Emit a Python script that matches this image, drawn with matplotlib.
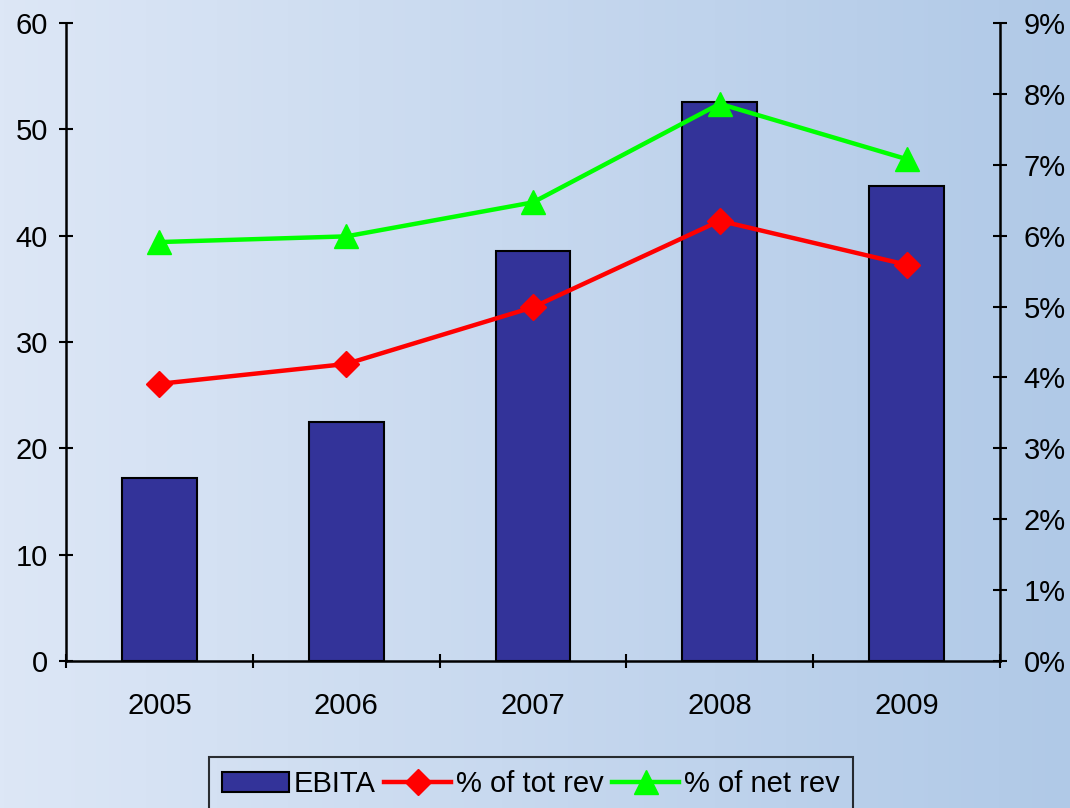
import matplotlib
matplotlib.use("Agg")
import matplotlib.pyplot as plt
import numpy as np
from matplotlib.ticker import FuncFormatter, MultipleLocator

years = ["2005", "2006", "2007", "2008", "2009"]
ebita = [17.2, 22.5, 38.6, 52.6, 44.7]
pct_tot_rev = [3.91, 4.19, 4.99, 6.21, 5.59]
pct_net_rev = [5.91, 5.99, 6.47, 7.86, 7.08]

plt.rcParams['font.family'] = ['Liberation Sans', 'DejaVu Sans']

fig = plt.figure(figsize=(10.7, 8.08), dpi=100)

# background gradient
bg = fig.add_axes([0, 0, 1, 1], zorder=-10)
grad = np.linspace(0, 1, 256)[None, :]
c0 = np.array([221, 231, 246]) / 255
c1 = np.array([176, 201, 231]) / 255
img = c0[None, None, :] * (1 - grad[..., None]) + c1[None, None, :] * grad[..., None]
bg.imshow(img, aspect='auto', extent=[0, 1, 0, 1])
bg.axis('off')

ax = fig.add_axes([66/1070, 1 - 661/808, (1000-66)/1070, (661-23)/808])
ax.patch.set_alpha(0)
x = np.arange(len(years))
ax.bar(x, ebita, width=0.4, color='#333399', edgecolor='black', linewidth=1.5, zorder=2, label='EBITA')
ax.set_xlim(-0.5, 4.5)
ax.set_ylim(0, 60)
ax.yaxis.set_major_locator(MultipleLocator(10))
ax.set_xticks(np.arange(-0.5, 4.6, 1.0))
ax.set_xticklabels([])
ax.set_xticks(x, minor=True)
ax.set_xticklabels(years, minor=True)
ax.tick_params(axis='x', which='minor', length=0, pad=22, labelsize=21)
ax.tick_params(axis='x', which='major', direction='inout', length=10, width=1.5)
ax.tick_params(axis='y', direction='inout', length=10, width=1.5, labelsize=21, pad=8)
for s in ['top', 'right']:
    ax.spines[s].set_visible(False)
for s in ['left', 'bottom']:
    ax.spines[s].set_linewidth(1.8)

ax2 = ax.twinx()
ax2.set_ylim(0, 9)
ax2.yaxis.set_major_locator(MultipleLocator(1))
ax2.yaxis.set_major_formatter(FuncFormatter(lambda v, p: f"{int(round(v))}%"))
ax2.tick_params(axis='y', direction='inout', length=10, width=1.5, labelsize=21, pad=12)
for s in ['top', 'left', 'bottom']:
    ax2.spines[s].set_visible(False)
ax2.spines['right'].set_linewidth(1.8)

l1, = ax2.plot(x, pct_tot_rev, color='#ff0000', lw=3.2, marker='D', markersize=13, label='% of tot rev', zorder=3)
l2, = ax2.plot(x, pct_net_rev, color='#00ff00', lw=3.2, marker='^', markersize=17, label='% of net rev', zorder=3)

h1, lab1 = ax.get_legend_handles_labels()
leg = fig.legend(h1 + [l1, l2], lab1 + ['% of tot rev', '% of net rev'],
                 loc='upper left', bbox_to_anchor=(209/1070, 1 - 757/808),
                 ncol=3, frameon=True, fancybox=False, fontsize=21,
                 handlelength=2.3, handletextpad=0.15, columnspacing=0.3,
                 borderpad=0.45, borderaxespad=0)
leg.get_frame().set_edgecolor('black')
leg.get_frame().set_facecolor('none')
leg.get_frame().set_linewidth(1.5)

fig.savefig('out.png', dpi=100)
